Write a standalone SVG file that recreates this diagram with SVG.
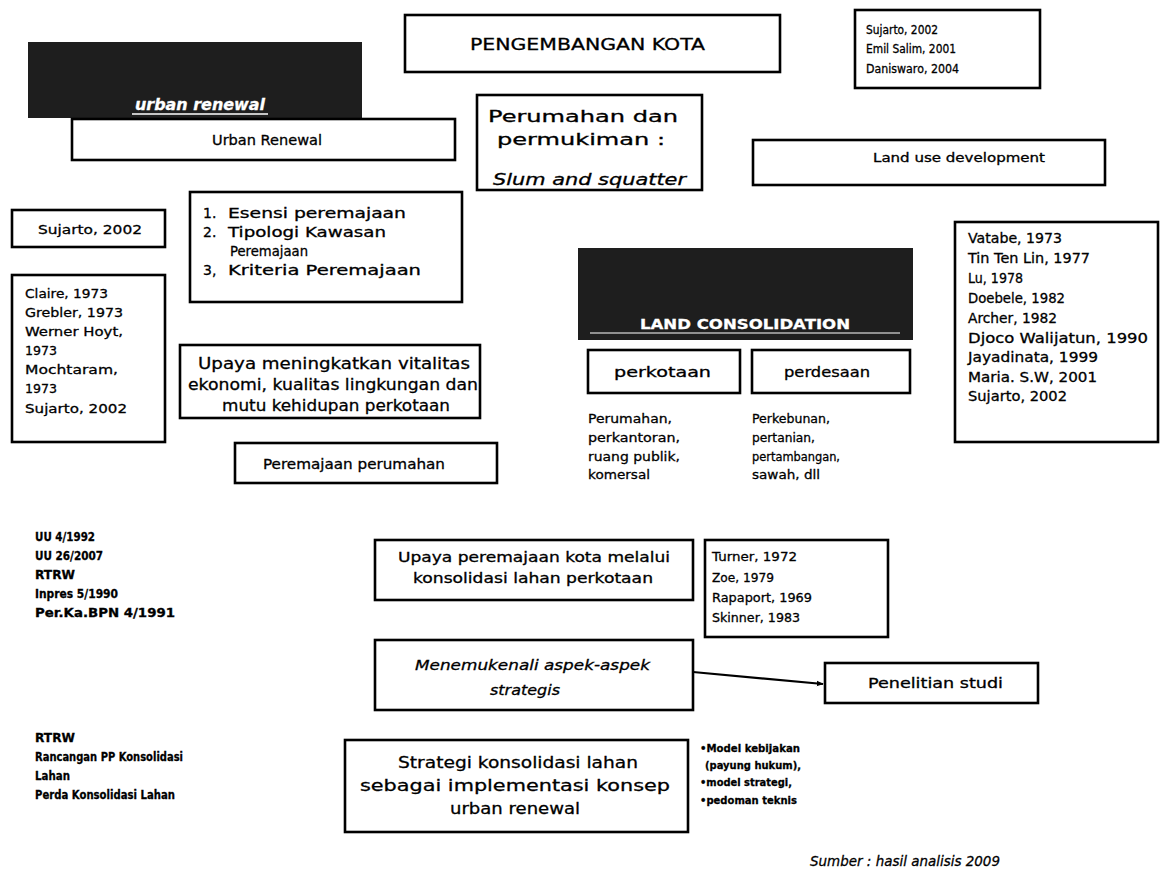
<svg xmlns="http://www.w3.org/2000/svg" width="1161" height="876" viewBox="0 0 1161 876">
<style>
.b{fill:none;stroke:#000;stroke-width:2.6}
.k{fill:#1e1e1e}
text{font-family:"DejaVu Sans","Liberation Sans",sans-serif;fill:#000;stroke:#000;stroke-width:0.3}
.w{fill:#fff;stroke:#fff;font-weight:bold}
.i{font-style:italic}
.bd{font-weight:bold}
.c{stroke:#000;stroke-width:2.2;fill:none}
</style>
<defs>
<marker id="ah" viewBox="0 0 10 10" refX="9" refY="5" markerWidth="7" markerHeight="7" orient="auto" markerUnits="userSpaceOnUse">
<path d="M0,1 L10,5 L0,9 z" fill="#000"/>
</marker>
</defs>
<rect width="1161" height="876" fill="#fff"/>

<g id="pengembangan-kota">
<rect class="b" x="405" y="15" width="375" height="57"/>
<text x="470" y="50" font-size="16" textLength="235" lengthAdjust="spacingAndGlyphs">PENGEMBANGAN KOTA</text>
</g>

<g id="ref-top">
<rect class="b" x="855" y="10" width="185" height="78"/>
<text x="866" y="34" font-size="12" textLength="72" lengthAdjust="spacingAndGlyphs">Sujarto, 2002</text>
<text x="866" y="53" font-size="12" textLength="90" lengthAdjust="spacingAndGlyphs">Emil Salim, 2001</text>
<text x="866" y="73" font-size="12" textLength="93" lengthAdjust="spacingAndGlyphs">Daniswaro, 2004</text>
</g>

<g id="block-urban-renewal">
<rect class="k" x="28" y="42" width="334" height="76"/>
<text class="w i" x="135" y="110" font-size="15" textLength="130" lengthAdjust="spacingAndGlyphs">urban renewal</text>
<line x1="132" y1="114" x2="268" y2="114" stroke="#fff" stroke-width="1.5"/>
</g>

<g id="perumahan">
<rect class="b" x="477" y="95" width="225" height="95"/>
<text x="488" y="122" font-size="15" textLength="190" lengthAdjust="spacingAndGlyphs">Perumahan dan</text>
<text x="497" y="145" font-size="15" textLength="168" lengthAdjust="spacingAndGlyphs">permukiman :</text>
<text class="i" x="493" y="185" font-size="15" textLength="193" lengthAdjust="spacingAndGlyphs">Slum and squatter</text>
</g>

<g id="urban-renewal">
<rect class="b" x="72" y="119" width="383" height="41"/>
<text x="212" y="145" font-size="14" textLength="110" lengthAdjust="spacingAndGlyphs">Urban Renewal</text>
</g>

<g id="landuse">
<rect class="b" x="753" y="140" width="352" height="45"/>
<text x="873" y="162" font-size="12" textLength="172" lengthAdjust="spacingAndGlyphs">Land use development</text>
</g>

<g id="ref-sujarto">
<rect class="b" x="12" y="210" width="153" height="37"/>
<text x="38" y="234" font-size="13" textLength="104" lengthAdjust="spacingAndGlyphs">Sujarto, 2002</text>
</g>

<g id="list-peremajaan">
<rect class="b" x="190" y="192" width="272" height="110"/>
<text x="203" y="218" font-size="14">1.</text>
<text x="228" y="218" font-size="14" textLength="178" lengthAdjust="spacingAndGlyphs">Esensi peremajaan</text>
<text x="203" y="237" font-size="14">2.</text>
<text x="228" y="237" font-size="14" textLength="158" lengthAdjust="spacingAndGlyphs">Tipologi Kawasan</text>
<text x="230" y="256" font-size="14" textLength="78" lengthAdjust="spacingAndGlyphs">Peremajaan</text>
<text x="203" y="275" font-size="14">3,</text>
<text x="228" y="275" font-size="14" textLength="193" lengthAdjust="spacingAndGlyphs">Kriteria Peremajaan</text>
</g>

<g id="ref-left">
<rect class="b" x="12" y="275" width="153" height="167"/>
<text x="25" y="298" font-size="13" textLength="83" lengthAdjust="spacingAndGlyphs">Claire, 1973</text>
<text x="25" y="317" font-size="13" textLength="98" lengthAdjust="spacingAndGlyphs">Grebler, 1973</text>
<text x="25" y="336" font-size="13" textLength="98" lengthAdjust="spacingAndGlyphs">Werner Hoyt,</text>
<text x="25" y="355" font-size="13" textLength="32" lengthAdjust="spacingAndGlyphs">1973</text>
<text x="25" y="374" font-size="13" textLength="93" lengthAdjust="spacingAndGlyphs">Mochtaram,</text>
<text x="25" y="393" font-size="13" textLength="32" lengthAdjust="spacingAndGlyphs">1973</text>
<text x="25" y="413" font-size="13" textLength="102" lengthAdjust="spacingAndGlyphs">Sujarto, 2002</text>
</g>

<g id="block-land-consolidation">
<rect class="k" x="578" y="248" width="335" height="92"/>
<text class="w" x="640" y="329" font-size="14" textLength="210" lengthAdjust="spacingAndGlyphs">LAND CONSOLIDATION</text>
<line x1="590" y1="333" x2="900" y2="333" stroke="#fff" stroke-width="1.2"/>
</g>

<g id="upaya-vitalitas">
<rect class="b" x="180" y="345" width="300" height="73"/>
<text x="198" y="369" font-size="16" textLength="272" lengthAdjust="spacingAndGlyphs">Upaya meningkatkan vitalitas</text>
<text x="188" y="390" font-size="16" textLength="290" lengthAdjust="spacingAndGlyphs">ekonomi, kualitas lingkungan dan</text>
<text x="222" y="411" font-size="16" textLength="228" lengthAdjust="spacingAndGlyphs">mutu kehidupan perkotaan</text>
</g>

<g id="perkotaan">
<rect class="b" x="588" y="350" width="152" height="43"/>
<text x="614" y="377" font-size="14" textLength="97" lengthAdjust="spacingAndGlyphs">perkotaan</text>
</g>

<g id="perdesaan">
<rect class="b" x="752" y="350" width="158" height="43"/>
<text x="784" y="377" font-size="14" textLength="86" lengthAdjust="spacingAndGlyphs">perdesaan</text>
</g>

<g id="list-perkotaan">
<text x="588" y="423" font-size="13" textLength="84" lengthAdjust="spacingAndGlyphs">Perumahan,</text>
<text x="588" y="442" font-size="13" textLength="92" lengthAdjust="spacingAndGlyphs">perkantoran,</text>
<text x="588" y="461" font-size="13" textLength="92" lengthAdjust="spacingAndGlyphs">ruang publik,</text>
<text x="588" y="479" font-size="13" textLength="62" lengthAdjust="spacingAndGlyphs">komersal</text>
</g>

<g id="list-perdesaan">
<text x="752" y="423" font-size="12" textLength="78" lengthAdjust="spacingAndGlyphs">Perkebunan,</text>
<text x="752" y="442" font-size="12" textLength="63" lengthAdjust="spacingAndGlyphs">pertanian,</text>
<text x="752" y="461" font-size="12" textLength="88" lengthAdjust="spacingAndGlyphs">pertambangan,</text>
<text x="752" y="479" font-size="12" textLength="68" lengthAdjust="spacingAndGlyphs">sawah, dll</text>
</g>

<g id="ref-right">
<rect class="b" x="955" y="222" width="203" height="220"/>
<text x="968" y="243" font-size="14" textLength="94" lengthAdjust="spacingAndGlyphs">Vatabe, 1973</text>
<text x="968" y="263" font-size="14" textLength="122" lengthAdjust="spacingAndGlyphs">Tin Ten Lin, 1977</text>
<text x="968" y="283" font-size="14" textLength="55" lengthAdjust="spacingAndGlyphs">Lu, 1978</text>
<text x="968" y="303" font-size="14" textLength="97" lengthAdjust="spacingAndGlyphs">Doebele, 1982</text>
<text x="968" y="323" font-size="14" textLength="89" lengthAdjust="spacingAndGlyphs">Archer, 1982</text>
<text x="968" y="343" font-size="14" textLength="180" lengthAdjust="spacingAndGlyphs">Djoco Walijatun, 1990</text>
<text x="968" y="362" font-size="14" textLength="130" lengthAdjust="spacingAndGlyphs">Jayadinata, 1999</text>
<text x="968" y="382" font-size="14" textLength="129" lengthAdjust="spacingAndGlyphs">Maria. S.W, 2001</text>
<text x="968" y="401" font-size="14" textLength="99" lengthAdjust="spacingAndGlyphs">Sujarto, 2002</text>
</g>

<g id="peremajaan-perumahan">
<rect class="b" x="235" y="443" width="262" height="40"/>
<text x="263" y="469" font-size="14" textLength="182" lengthAdjust="spacingAndGlyphs">Peremajaan perumahan</text>
</g>

<g id="list-uu">
<text class="bd" x="35" y="541" font-size="12" textLength="60" lengthAdjust="spacingAndGlyphs">UU 4/1992</text>
<text class="bd" x="35" y="560" font-size="12" textLength="68" lengthAdjust="spacingAndGlyphs">UU 26/2007</text>
<text class="bd" x="35" y="579" font-size="12" textLength="40" lengthAdjust="spacingAndGlyphs">RTRW</text>
<text class="bd" x="35" y="598" font-size="12" textLength="83" lengthAdjust="spacingAndGlyphs">Inpres 5/1990</text>
<text class="bd" x="35" y="617" font-size="12" textLength="140" lengthAdjust="spacingAndGlyphs">Per.Ka.BPN 4/1991</text>
</g>

<g id="upaya-peremajaan">
<rect class="b" x="375" y="540" width="318" height="60"/>
<text x="398" y="562" font-size="14" textLength="272" lengthAdjust="spacingAndGlyphs">Upaya peremajaan kota melalui</text>
<text x="413" y="583" font-size="14" textLength="240" lengthAdjust="spacingAndGlyphs">konsolidasi lahan perkotaan</text>
</g>

<g id="ref-turner">
<rect class="b" x="705" y="540" width="183" height="97"/>
<text x="712" y="561" font-size="13" textLength="85" lengthAdjust="spacingAndGlyphs">Turner, 1972</text>
<text x="712" y="582" font-size="13" textLength="62" lengthAdjust="spacingAndGlyphs">Zoe, 1979</text>
<text x="712" y="602" font-size="13" textLength="100" lengthAdjust="spacingAndGlyphs">Rapaport, 1969</text>
<text x="712" y="622" font-size="13" textLength="88" lengthAdjust="spacingAndGlyphs">Skinner, 1983</text>
</g>

<g id="menemukenali">
<rect class="b" x="375" y="640" width="318" height="70"/>
<text class="i" x="415" y="670" font-size="14" textLength="235" lengthAdjust="spacingAndGlyphs">Menemukenali aspek-aspek</text>
<text class="i" x="490" y="695" font-size="14" textLength="70" lengthAdjust="spacingAndGlyphs">strategis</text>
</g>

<g id="penelitian">
<rect class="b" x="825" y="663" width="213" height="40"/>
<text x="868" y="688" font-size="14" textLength="135" lengthAdjust="spacingAndGlyphs">Penelitian studi</text>
</g>

<g id="list-rtrw">
<text class="bd" x="35" y="742" font-size="12" textLength="40" lengthAdjust="spacingAndGlyphs">RTRW</text>
<text class="bd" x="35" y="761" font-size="12" textLength="148" lengthAdjust="spacingAndGlyphs">Rancangan PP Konsolidasi</text>
<text class="bd" x="35" y="780" font-size="12" textLength="35" lengthAdjust="spacingAndGlyphs">Lahan</text>
<text class="bd" x="35" y="799" font-size="12" textLength="140" lengthAdjust="spacingAndGlyphs">Perda Konsolidasi Lahan</text>
</g>

<g id="strategi">
<rect class="b" x="345" y="740" width="343" height="92"/>
<text x="398" y="768" font-size="16" textLength="240" lengthAdjust="spacingAndGlyphs">Strategi konsolidasi lahan</text>
<text x="360" y="791" font-size="16" textLength="310" lengthAdjust="spacingAndGlyphs">sebagai implementasi konsep</text>
<text x="450" y="814" font-size="16" textLength="130" lengthAdjust="spacingAndGlyphs">urban renewal</text>
</g>

<g id="list-model">
<text class="bd" x="700" y="752" font-size="11" textLength="100" lengthAdjust="spacingAndGlyphs">•Model kebijakan</text>
<text class="bd" x="705" y="769" font-size="11" textLength="96" lengthAdjust="spacingAndGlyphs">(payung hukum),</text>
<text class="bd" x="700" y="786" font-size="11" textLength="92" lengthAdjust="spacingAndGlyphs">•model strategi,</text>
<text class="bd" x="700" y="804" font-size="11" textLength="97" lengthAdjust="spacingAndGlyphs">•pedoman teknis</text>
</g>

<g id="sumber">
<text class="i" x="810" y="866" font-size="14" textLength="190" lengthAdjust="spacingAndGlyphs">Sumber : hasil analisis 2009</text>
</g>

<g id="connectors">
<path class="c" d="M693,672 L823,684" marker-end="url(#ah)"/>
</g>
</svg>
